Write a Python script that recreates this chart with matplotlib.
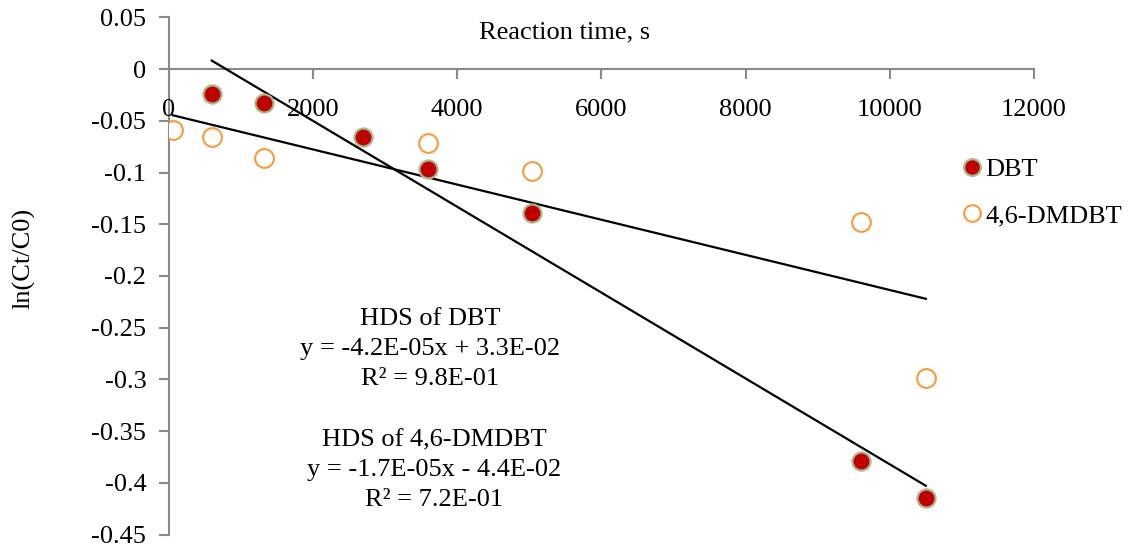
import numpy as np
import matplotlib
matplotlib.use("Agg")
import matplotlib.pyplot as plt
from matplotlib.lines import Line2D

# Reaction time (s) and ln(Ct/C0) for each sulfur compound
dbt_time = [600, 1320, 2700, 3600, 5040, 9600, 10500]
dbt_ln = [-0.024, -0.033, -0.066, -0.097, -0.139, -0.379, -0.415]

dmdbt_time = [60, 600, 1320, 3600, 5040, 9600, 10500]
dmdbt_ln = [-0.059, -0.066, -0.086, -0.071, -0.098, -0.148, -0.299]

x_ticks = [0, 2000, 4000, 6000, 8000, 10000, 12000]
y_ticks = [0.05, 0, -0.05, -0.1, -0.15, -0.2, -0.25, -0.3, -0.35, -0.4, -0.45]
y_tick_labels = ["0.05", "0", "-0.05", "-0.1", "-0.15", "-0.2", "-0.25",
                 "-0.3", "-0.35", "-0.4", "-0.45"]

dbt_fit_text = "HDS of DBT\ny = -4.2E-05x + 3.3E-02\nR² = 9.8E-01"
dmdbt_fit_text = "HDS of 4,6-DMDBT\ny = -1.7E-05x - 4.4E-02\nR² = 7.2E-01"

plt.rcParams["font.family"] = ["Liberation Serif", "DejaVu Serif"]
FS = 19
AXIS_GRAY = "#898989"
RED = "#C00000"
RED_EDGE = "#A7B78E"
ORANGE = "#F79B3C"

W, H = 1129, 548
fig = plt.figure(figsize=(W / 100, H / 100), dpi=100)
ax = fig.add_axes([168.5 / W, 1 - 534.5 / H, (1034 - 168.5) / W, (534.5 - 17.5) / H])

ax.set_xlim(0, 12000)
ax.set_ylim(-0.45, 0.05)

# Linear trend lines fitted to each series
for xs, ys in ((dbt_time, dbt_ln), (dmdbt_time, dmdbt_ln)):
    xs = np.asarray(xs, float)
    ys = np.asarray(ys, float)
    k, b = np.polyfit(xs, ys, 1)
    xx = np.array([xs.min(), xs.max()])
    ax.plot(xx, k * xx + b, color="black", lw=1.6, zorder=2)

ax.plot(dbt_time, dbt_ln, ls="none", marker="o", ms=13, mfc=RED,
        mec=RED_EDGE, mew=1.6, zorder=3)
ax.plot(dmdbt_time, dmdbt_ln, ls="none", marker="o", ms=13.5, mfc="white",
        mec=ORANGE, mew=1.5, zorder=3)

# Axes styling: x axis crosses at y = 0
for s in ("top", "right"):
    ax.spines[s].set_visible(False)
ax.spines["bottom"].set_position(("data", 0))
for s in ("left", "bottom"):
    ax.spines[s].set_color(AXIS_GRAY)
    ax.spines[s].set_linewidth(1.5)
    ax.spines[s].set_zorder(1)

ax.set_xticks(x_ticks)
ax.set_xticklabels([str(v) for v in x_ticks])
ax.set_yticks(y_ticks)
ax.set_yticklabels(y_tick_labels)
ax.tick_params(axis="both", direction="out", length=7, width=1.5,
               color=AXIS_GRAY, labelsize=FS, labelcolor="black")
ax.tick_params(axis="x", pad=14.5)
ax.tick_params(axis="y", pad=9)

fig.text(24 / W, 1 - 258 / H, "ln(Ct/C0)", fontsize=FS, rotation=90,
         ha="center", va="center")
fig.text(565 / W, 1 - 32 / H, "Reaction time, s", fontsize=FS,
         ha="center", va="center")

fig.text(430 / W, 1 - 349 / H, dbt_fit_text, fontsize=FS, ha="center",
         va="center", multialignment="center", linespacing=1.45)
fig.text(434 / W, 1 - 470 / H, dmdbt_fit_text, fontsize=FS, ha="center",
         va="center", multialignment="center", linespacing=1.45)

handles = [
    Line2D([], [], ls="none", marker="o", ms=12, mfc=RED, mec=RED_EDGE, mew=1.6),
    Line2D([], [], ls="none", marker="o", ms=12, mfc="white", mec=ORANGE, mew=1.5),
]
fig.legend(handles, ["DBT", "4,6-DMDBT"], loc="upper left",
           bbox_to_anchor=(964 / W, 1 - 158 / H), frameon=False,
           fontsize=FS, handlelength=0.6, handletextpad=0.2,
           labelspacing=0.85, borderaxespad=0, borderpad=0)

fig.savefig("out.png", dpi=100)
